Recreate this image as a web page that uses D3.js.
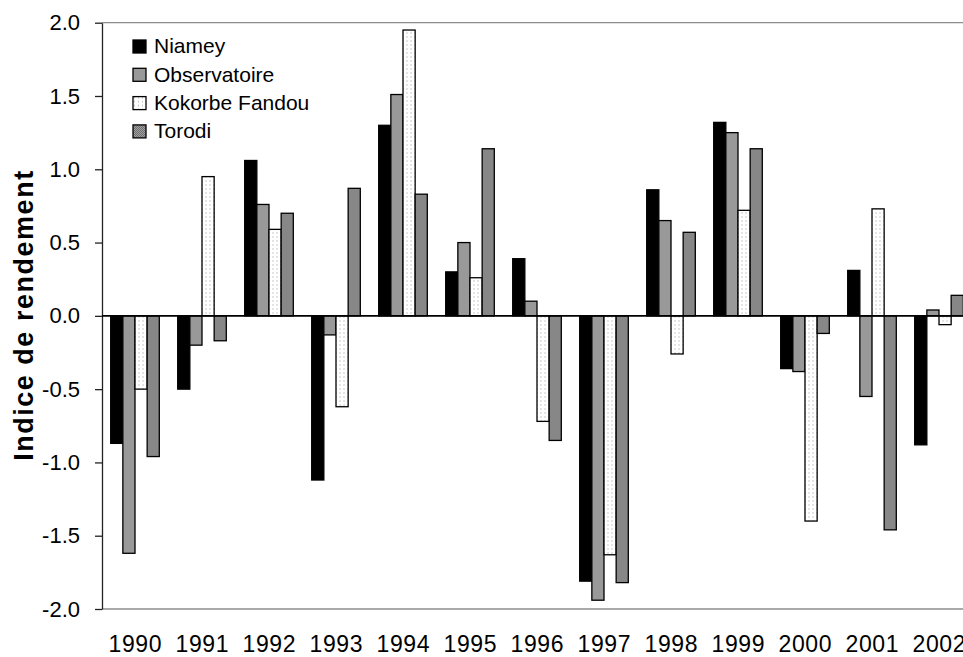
<!DOCTYPE html>
<html>
<head>
<meta charset="utf-8">
<script src="https://cdn.jsdelivr.net/npm/d3@7"></script>
<style>
  html, body { margin: 0; padding: 0; background: #fff; }
  svg { display: block; font-family: "Liberation Sans", Arial, sans-serif; }
</style>
</head>
<body>
<svg id="chart" width="963" height="657"></svg>
<script>
const years = ["1990","1991","1992","1993","1994","1995","1996","1997","1998","1999","2000","2001","2002"];
const seriesNames = ["Niamey", "Observatoire", "Kokorbe Fandou", "Torodi"];
const niamey       = [-0.87, -0.50, 1.06, -1.12, 1.30, 0.30, 0.39, -1.81, 0.86, 1.32, -0.36, 0.31, -0.88];
const observatoire = [-1.62, -0.20, 0.76, -0.13, 1.51, 0.50, 0.10, -1.94, 0.65, 1.25, -0.38, -0.55, 0.04];
const kokorbe      = [-0.50, 0.95, 0.59, -0.62, 1.95, 0.26, -0.72, -1.63, -0.26, 0.72, -1.40, 0.73, -0.06];
const torodi       = [-0.96, -0.17, 0.70, 0.87, 0.83, 1.14, -0.85, -1.82, 0.57, 1.14, -0.12, -1.46, 0.14];
const yTicks = [-2.0, -1.5, -1.0, -0.5, 0.0, 0.5, 1.0, 1.5, 2.0];
const yTitle = "Indice de rendement";

(function () {
const seriesValues = [niamey, observatoire, kokorbe, torodi];
const fills = ["#000000", "#999999", "url(#patKok)", "url(#patTor)"];

const svg = d3.select("#chart");
const defs = svg.append("defs");
const pk = defs.append("pattern").attr("id", "patKok").attr("patternUnits", "userSpaceOnUse")
  .attr("width", 4).attr("height", 4);
pk.append("rect").attr("width", 4).attr("height", 4).attr("fill", "#fff");
pk.append("rect").attr("x", 1).attr("y", 0).attr("width", 1).attr("height", 2).attr("fill", "#c8c8c8");
const pt = defs.append("pattern").attr("id", "patTor").attr("patternUnits", "userSpaceOnUse")
  .attr("width", 2).attr("height", 2);
pt.append("rect").attr("width", 2).attr("height", 2).attr("fill", "#a8a8a8");
pt.append("rect").attr("x", 0).attr("y", 0).attr("width", 1).attr("height", 1).attr("fill", "#666");
pt.append("rect").attr("x", 1).attr("y", 1).attr("width", 1).attr("height", 1).attr("fill", "#666");

const pLeft = 102, pTop = 22.7, pBottom = 609, pRight = 963;
const step = 67;
const x0 = d3.scaleBand().domain(years).range([101.5, 101.5 + step * years.length]).padding(0);
const groupW = 48.6;
const x1 = d3.scaleBand().domain(seriesNames)
  .range([(x0.bandwidth() - groupW) / 2, (x0.bandwidth() + groupW) / 2]).padding(0);
const y = d3.scaleLinear().domain([-2, 2]).range([pBottom, pTop]);

svg.append("line").attr("x1", pLeft).attr("x2", pRight).attr("y1", pTop).attr("y2", pTop)
  .attr("stroke", "#8c8c8c").attr("stroke-width", 1.3);
svg.append("line").attr("x1", pLeft).attr("x2", pRight).attr("y1", pBottom).attr("y2", pBottom)
  .attr("stroke", "#8c8c8c").attr("stroke-width", 1.3);

const groups = svg.append("g").selectAll("g").data(years).join("g")
  .attr("transform", d => `translate(${x0(d)},0)`);
groups.selectAll("rect")
  .data((d, i) => seriesNames.map((s, j) => ({ s, j, v: seriesValues[j][i] })))
  .join("rect")
  .attr("x", d => x1(d.s))
  .attr("width", x1.bandwidth())
  .attr("y", d => y(Math.max(0, d.v)))
  .attr("height", d => Math.abs(y(d.v) - y(0)))
  .attr("fill", d => fills[d.j])
  .attr("stroke", "#000")
  .attr("stroke-width", 1.3);

const yAxis = svg.append("g").attr("transform", `translate(${pLeft},0)`)
  .call(d3.axisLeft(y).tickValues(yTicks).tickFormat(d => d.toFixed(1)).tickSize(7).tickSizeOuter(0));
yAxis.select(".domain").attr("stroke", "#222").attr("stroke-width", 1.3);
yAxis.selectAll(".tick line").attr("stroke", "#222").attr("stroke-width", 1.3);
yAxis.selectAll(".tick text").attr("font-size", 22).attr("fill", "#000")
  .attr("font-family", "Liberation Sans, Arial, sans-serif").attr("x", -22);

svg.append("line").attr("x1", pLeft).attr("x2", pRight).attr("y1", y(0)).attr("y2", y(0))
  .attr("stroke", "#000").attr("stroke-width", 1.6);

const xAxis = svg.append("g").attr("transform", `translate(0,${pBottom})`)
  .call(d3.axisBottom(x0).tickSize(0));
xAxis.select(".domain").remove();
xAxis.selectAll(".tick text").attr("font-size", 23).attr("fill", "#000")
  .attr("font-family", "Liberation Sans, Arial, sans-serif").attr("dy", 0).attr("y", 43)
  .attr("textLength", 53).attr("lengthAdjust", "spacing");

svg.append("text")
  .attr("transform", `translate(33,${y(0)}) rotate(-90)`)
  .attr("text-anchor", "middle")
  .attr("font-size", 27).attr("font-weight", "bold")
  .attr("textLength", 290).attr("lengthAdjust", "spacing")
  .text(yTitle);

const legend = svg.append("g").attr("transform", "translate(133,40)");
const li = legend.selectAll("g").data(seriesNames).join("g")
  .attr("transform", (d, i) => `translate(0,${i * 28.3})`);
li.append("rect").attr("width", 13).attr("height", 13)
  .attr("fill", (d, i) => fills[i]).attr("stroke", "#000").attr("stroke-width", 1.3);
li.append("text").attr("x", 21).attr("y", 13.3).attr("font-size", 21).text(d => d);
})();
</script>
</body>
</html>
